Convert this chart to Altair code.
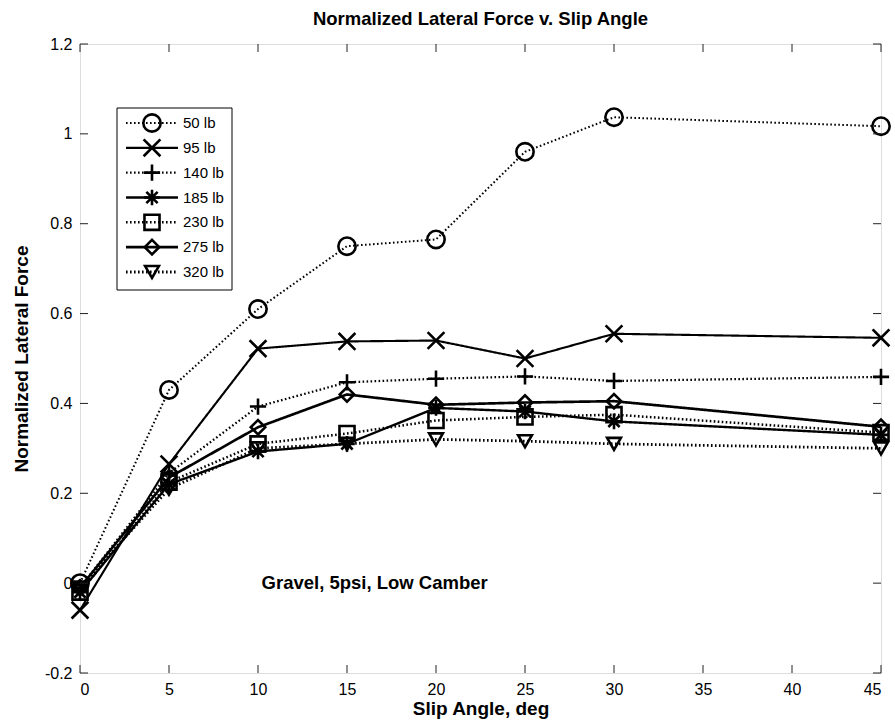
import altair as alt
import pandas as pd

# ---------------- data ----------------
slip = [0, 5, 10, 15, 20, 25, 30, 45]
series_names = ["50 lb", "95 lb", "140 lb", "185 lb", "230 lb", "275 lb", "320 lb"]
f50 = [0.00, 0.43, 0.61, 0.75, 0.765, 0.96, 1.037, 1.017]
f95 = [-0.06, 0.265, 0.522, 0.538, 0.54, 0.50, 0.555, 0.546]
f140 = [-0.01, 0.245, 0.393, 0.447, 0.455, 0.46, 0.45, 0.459]
f185 = [-0.02, 0.22, 0.293, 0.31, 0.39, 0.382, 0.36, 0.33]
f230 = [-0.02, 0.225, 0.31, 0.333, 0.362, 0.37, 0.375, 0.335]
f275 = [-0.01, 0.235, 0.347, 0.42, 0.397, 0.402, 0.405, 0.348]
f320 = [-0.01, 0.21, 0.30, 0.31, 0.32, 0.316, 0.31, 0.30]
all_series = [f50, f95, f140, f185, f230, f275, f320]

x_ticks = [0, 5, 10, 15, 20, 25, 30, 35, 40, 45]
y_ticks = [-0.2, 0, 0.2, 0.4, 0.6, 0.8, 1.0, 1.2]
title_text = "Normalized Lateral Force v. Slip Angle"
note_text = "Gravel, 5psi, Low Camber"
note_pos = (10.2, 0.0)

# ---------------- tables ----------------
rows = []
for name, vals in zip(series_names, all_series):
    for s, v in zip(slip, vals):
        rows.append({"series": name, "slip": s, "force": v})
df = pd.DataFrame(rows)
legend_df = pd.DataFrame({"series": series_names})
xt_df = pd.DataFrame({"v": x_ticks})
yt_df = pd.DataFrame({"v": y_ticks})

FONT = "Liberation Sans"
W, H = 801, 629

dotted = [1.6, 2.4]
solid = [1, 0]
dash_scale = alt.Scale(domain=series_names,
                       range=[dotted, solid, dotted, solid, dotted, solid, dotted])
width_scale = alt.Scale(domain=series_names, range=[2, 2.8, 2, 2.8, 2, 2.8, 2])
shape_scale = alt.Scale(domain=series_names, range=[
    "circle",
    "M-1,-1L1,1M-1,1L1,-1",
    "M-1,0L1,0M0,-1L0,1",
    "M-1,0L1,0M0,-1L0,1M-0.72,-0.72L0.72,0.72M-0.72,0.72L0.72,-0.72",
    "square",
    "diamond",
    "triangle-down",
])
size_scale = alt.Scale(domain=series_names, range=[300, 190, 260, 240, 210, 300, 420])

x_scale = alt.Scale(domain=[0, 45], nice=False, zero=False)
y_scale = alt.Scale(domain=[-0.2, 1.2], nice=False, zero=False)

x_axis = alt.Axis(values=x_ticks, grid=False, domain=False, tickSize=0,
                  labelPadding=8, labelFont=FONT, labelFontSize=16, labelColor="black",
                  title="Slip Angle, deg", titleFont=FONT, titleFontSize=19,
                  titleFontWeight="bold", titleColor="black", titlePadding=2)
y_axis = alt.Axis(values=y_ticks, grid=False, domain=False, tickSize=0,
                  labelPadding=8, labelFont=FONT, labelFontSize=16, labelColor="black",
                  labelExpr="datum.value < 0 ? '-' + format(-datum.value, '.1~f') : format(datum.value, '.1~f')",
                  title="Normalized Lateral Force", titleFont=FONT, titleFontSize=19,
                  titleFontWeight="bold", titleColor="black", titlePadding=13)


def X(field="slip"):
    return alt.X(f"{field}:Q", scale=x_scale, axis=x_axis)


def Y(field="force"):
    return alt.Y(f"{field}:Q", scale=y_scale, axis=y_axis)


base = alt.Chart(df)
lines = base.mark_line(color="black").encode(
    x=X(), y=Y(),
    detail="series:N",
    strokeDash=alt.StrokeDash("series:N", scale=dash_scale, legend=None),
    strokeWidth=alt.StrokeWidth("series:N", scale=width_scale, legend=None),
)
points = base.mark_point(filled=False, color="black", strokeWidth=2.6, opacity=1).encode(
    x=X(), y=Y(),
    shape=alt.Shape("series:N", scale=shape_scale, legend=None),
    size=alt.Size("series:N", scale=size_scale, legend=None),
)

tick_color = "#222222"
xt_bottom = alt.Chart(xt_df).mark_rule(color=tick_color, strokeWidth=1).encode(
    x=X("v"), y=alt.value(H), y2=alt.value(H - 8))
xt_top = alt.Chart(xt_df).mark_rule(color=tick_color, strokeWidth=1).encode(
    x=X("v"), y=alt.value(0), y2=alt.value(8))
yt_left = alt.Chart(yt_df).mark_rule(color=tick_color, strokeWidth=1).encode(
    y=Y("v"), x=alt.value(0), x2=alt.value(8))
yt_right = alt.Chart(yt_df).mark_rule(color=tick_color, strokeWidth=1).encode(
    y=Y("v"), x=alt.value(W), x2=alt.value(W - 8))

note = alt.Chart(pd.DataFrame({"t": [note_text]})).mark_text(
    font=FONT, fontSize=18.5, fontWeight="bold", align="left", baseline="middle", color="black"
).encode(x=alt.datum(note_pos[0], scale=x_scale), y=alt.datum(note_pos[1]), text="t:N")

title = alt.Chart(pd.DataFrame({"t": [title_text]})).mark_text(
    font=FONT, fontSize=18.5, fontWeight="bold", align="center", baseline="alphabetic", color="black"
).encode(x=alt.value(W / 2), y=alt.value(-19), text="t:N")

main = alt.layer(lines, points, xt_bottom, xt_top, yt_left, yt_right, note, title)

# ---------------- legend ----------------
leg_y = alt.Y("series:N", scale=alt.Scale(type="point", domain=series_names,
                                          range=[79, 228], padding=0), axis=None)
leg_box = alt.Chart(alt.Data(values=[{"a": 1}])).mark_rect(
    fill="white", stroke="black", strokeWidth=1
).encode(x=alt.value(37), x2=alt.value(152), y=alt.value(64), y2=alt.value(246))
leg_lines = alt.Chart(legend_df).mark_rule(color="black").encode(
    x=alt.value(46), x2=alt.value(98), y=leg_y,
    strokeDash=alt.StrokeDash("series:N", scale=dash_scale, legend=None),
    strokeWidth=alt.StrokeWidth("series:N", scale=width_scale, legend=None),
)
leg_points = alt.Chart(legend_df).mark_point(filled=False, color="black", strokeWidth=2.6, opacity=1).encode(
    x=alt.value(72), y=leg_y,
    shape=alt.Shape("series:N", scale=shape_scale, legend=None),
    size=alt.Size("series:N", scale=size_scale, legend=None),
)
leg_text = alt.Chart(legend_df).mark_text(
    font=FONT, fontSize=15, align="left", baseline="middle", color="black"
).encode(x=alt.value(103), y=leg_y, text="series:N")

legend = alt.layer(leg_box, leg_lines, leg_points, leg_text)

chart = alt.layer(main, legend).resolve_scale(y="independent").properties(
    width=W, height=H,
    autosize=alt.AutoSizeParams(type="none"),
    padding={"left": 80, "top": 44, "right": 14, "bottom": 55},
).configure_view(stroke="#666666", strokeWidth=1).configure(background="white")

chart.save("out.html", embed_options={"renderer": "svg", "actions": False})
